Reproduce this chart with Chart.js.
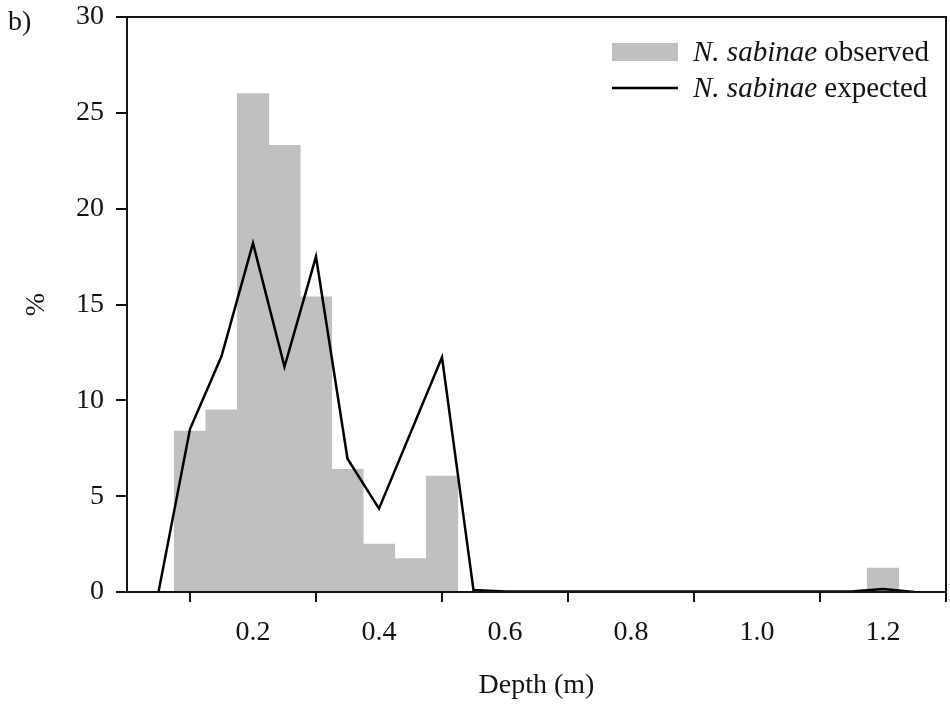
<!DOCTYPE html>
<html>
<head>
<meta charset="utf-8">
<script src="https://cdn.jsdelivr.net/npm/chart.js@4.4.1/dist/chart.umd.min.js"></script>
<style>
  body { margin: 0; background: #fff; }
  canvas { display: block; }
</style>
</head>
<body>
<canvas id="depthChart" width="950" height="704"></canvas>
<script>
// depth bins (m) and observed share of N. sabinae (%)
const depthBins = [0.1, 0.15, 0.2, 0.25, 0.3, 0.35, 0.4, 0.45, 0.5, 1.2];
const observedPct = [8.4, 9.5, 26.0, 23.3, 15.4, 6.4, 2.5, 1.75, 6.05, 1.25];

// expected distribution
const expectedDepth = [0.05, 0.1, 0.15, 0.2, 0.25, 0.3, 0.35, 0.4, 0.5, 0.55, 0.6, 1.15, 1.2, 1.25];
const expectedPct = [0, 8.5, 12.3, 18.2, 11.75, 17.5, 6.95, 4.35, 12.25, 0.1, 0.03, 0.03, 0.15, 0];

const xTicks = [0.2, 0.4, 0.6, 0.8, 1.0, 1.2];

const ink = '#141414';
const serif = '"Liberation Serif", "Times New Roman", serif';
const fontSize = 28;

const toPoints = (xs, ys) => xs.map((x, i) => ({ x: x, y: ys[i] }));

// box around plot, panel letter and legend
const extras = {
    id: 'extras',
    afterDraw(chart) {
        const { ctx, chartArea: a } = chart;
        ctx.save();
        ctx.strokeStyle = ink;
        ctx.lineWidth = 2;
        ctx.strokeRect(a.left, a.top, a.right - a.left, a.bottom - a.top);

        ctx.fillStyle = ink;
        ctx.font = fontSize + 'px ' + serif;
        ctx.textBaseline = 'alphabetic';
        ctx.fillText('b)', 8, 30);

        const rows = [
            { y: 52, label: 'observed', ds: chart.data.datasets[1] },
            { y: 88, label: 'expected', ds: chart.data.datasets[0] }
        ];
        rows.forEach(r => {
            if (r.ds.type === 'bar') {
                ctx.fillStyle = r.ds.backgroundColor;
                ctx.fillRect(612, r.y - 9, 66, 18);
            } else {
                ctx.strokeStyle = r.ds.borderColor;
                ctx.lineWidth = 2.5;
                ctx.beginPath();
                ctx.moveTo(612, r.y);
                ctx.lineTo(678, r.y);
                ctx.stroke();
            }
            ctx.fillStyle = ink;
            ctx.font = 'italic 29px ' + serif;
            const sp = 'N. sabinae';
            ctx.fillText(sp, 693, r.y + 9);
            const w = ctx.measureText(sp + ' ').width;
            ctx.font = '29px ' + serif;
            ctx.fillText(r.label, 693 + w, r.y + 9);
        });
        ctx.restore();
    }
};

new Chart(document.getElementById('depthChart'), {
    type: 'bar',
    data: {
        datasets: [{
            type: 'line',
            label: 'N. sabinae expected',
            data: toPoints(expectedDepth, expectedPct),
            borderColor: '#000',
            borderWidth: 2.5,
            pointRadius: 0,
            tension: 0,
            order: 0
        }, {
            type: 'bar',
            label: 'N. sabinae observed',
            data: toPoints(depthBins, observedPct),
            backgroundColor: '#c0c0c0',
            borderWidth: 0,
            barPercentage: 1,
            categoryPercentage: 1,
            order: 1
        }]
    },
    options: {
        responsive: false,
        animation: false,
        layout: { padding: { left: 0, right: 4, top: 17, bottom: 0 } },
        plugins: {
            legend: { display: false },
            tooltip: { enabled: false }
        },
        scales: {
            x: {
                type: 'linear',
                min: 0,
                max: 1.3,
                offset: false,
                afterBuildTicks: s => { s.ticks = xTicks.map(v => ({ value: v })); },
                afterFit: s => { s.height = 112; s.paddingLeft = 0; s.paddingRight = 0; },
                border: { display: true, color: ink, width: 2 },
                grid: { drawOnChartArea: false, drawTicks: true, tickLength: 10, color: ink, lineWidth: 2 },
                ticks: {
                    color: ink,
                    font: { family: serif, size: fontSize },
                    padding: 14,
                    maxRotation: 0,
                    callback: v => Number(v).toFixed(1)
                },
                title: {
                    display: true,
                    text: 'Depth (m)',
                    color: ink,
                    font: { family: serif, size: fontSize },
                    padding: { top: 0, bottom: 2 }
                }
            },
            y: {
                min: 0,
                max: 30,
                afterFit: s => { s.width = 127; s.paddingTop = 0; s.paddingBottom = 0; },
                border: { display: true, color: ink, width: 2 },
                grid: { drawOnChartArea: false, drawTicks: true, tickLength: 11, color: ink, lineWidth: 2 },
                ticks: {
                    stepSize: 5,
                    color: ink,
                    font: { family: serif, size: fontSize },
                    padding: 12
                },
                title: {
                    display: true,
                    text: '%',
                    color: ink,
                    font: { family: serif, size: fontSize },
                    padding: { top: 20, bottom: 0 }
                }
            }
        }
    },
    plugins: [extras]
});
</script>
</body>
</html>
